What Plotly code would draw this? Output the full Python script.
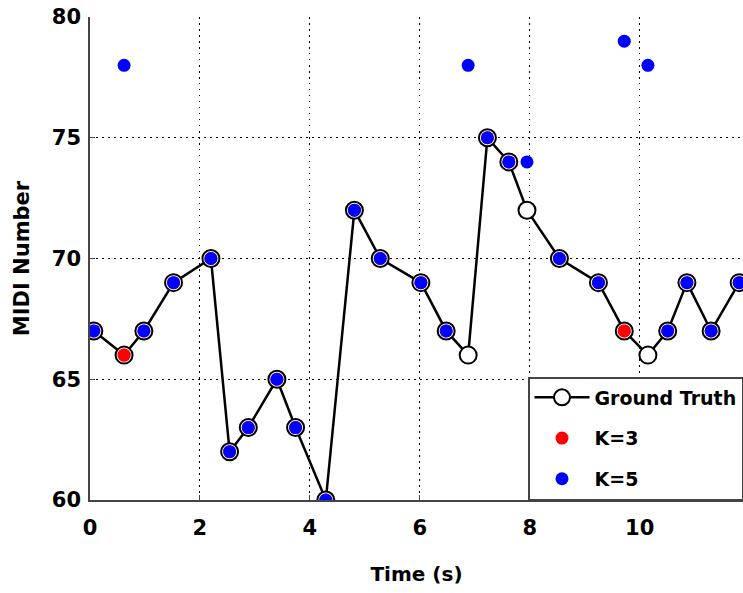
import plotly.graph_objects as go

# Note onset times (s) and MIDI pitch values
time_s = [0.07, 0.62, 0.98, 1.52, 2.20, 2.54, 2.88, 3.40, 3.74, 4.29,
          4.81, 5.28, 6.02, 6.48, 6.88, 7.23, 7.62, 7.95, 8.54, 9.25,
          9.72, 10.15, 10.51, 10.86, 11.30, 11.81]
ground_truth = [67, 66, 67, 69, 70, 62, 63, 65, 63, 60,
                72, 70, 69, 67, 66, 75, 74, 72, 70, 69,
                67, 66, 67, 69, 67, 69]
# Estimates for K=3 (None where no estimate is plotted)
k3_est = [67, 66, 67, 69, 70, 62, 63, 65, 63, 60,
          72, 70, 69, 67, None, 75, 74, None, 70, 69,
          67, None, 67, 69, 67, 69]
# Estimates for K=5
k5_est = [67, 78, 67, 69, 70, 62, 63, 65, 63, 60,
          72, 70, 69, 67, 78, 75, 74, 74, 70, 69,
          79, 78, 67, 69, 67, 69]

x_ticks = [0, 2, 4, 6, 8, 10]
y_ticks = [60, 65, 70, 75, 80]

FONT = "DejaVu Sans"

# Split estimates: where both agree the blue dot is drawn on top,
# where they disagree the red K=3 dot stays visible.
k5_agree = [w if v is not None and v == w else None for v, w in zip(k3_est, k5_est)]
k5_differ = [w if v is None or v != w else None for v, w in zip(k3_est, k5_est)]
k3_differ = [v if v is not None and v != w else None for v, w in zip(k3_est, k5_est)]

fig = go.Figure()
fig.add_trace(go.Scatter(
    x=time_s, y=ground_truth, mode="lines+markers", name="Ground Truth",
    line=dict(color="black", width=2.5),
    marker=dict(size=17, color="white", line=dict(color="black", width=2)),
    legendgroup="a",
))
fig.add_trace(go.Scatter(
    x=time_s, y=k3_est, mode="markers", name="K=3",
    marker=dict(size=13, color="#ff0000"),
    legendgroup="b",
))
fig.add_trace(go.Scatter(
    x=time_s, y=k5_agree, mode="markers", name="K=5",
    marker=dict(size=13, color="#0000ff"),
    legendgroup="c",
))
fig.add_trace(go.Scatter(
    x=time_s, y=k5_differ, mode="markers", showlegend=False,
    marker=dict(size=13, color="#0000ff"),
    legendgroup="c",
))
fig.add_trace(go.Scatter(
    x=time_s, y=k3_differ, mode="markers", showlegend=False,
    marker=dict(size=13, color="#ff0000"),
    legendgroup="b",
))

axis_common = dict(
    showgrid=True, gridcolor="black", griddash="1.5px,4.5px", gridwidth=1.2,
    showline=True, linecolor="#444444", linewidth=1.5,
    ticks="inside", ticklen=5, tickcolor="#444444",
    tickfont=dict(family=FONT, size=21, color="black", weight="bold"),
    zeroline=False,
)

fig.update_layout(
    width=743, height=593,
    margin=dict(l=90, r=0, t=17, b=93),
    paper_bgcolor="white", plot_bgcolor="white",
    xaxis=dict(range=[0, 11.88], tickvals=x_ticks, ticklabelstandoff=8,
               title=dict(text="Time (s)", standoff=28,
                          font=dict(family=FONT, size=20, color="black", weight="bold")),
               **axis_common),
    yaxis=dict(range=[60, 80], tickvals=y_ticks, ticklabelstandoff=3,
               title=dict(text="MIDI Number", standoff=16,
                          font=dict(family=FONT, size=21, color="black", weight="bold")),
               **axis_common),
    legend=dict(
        x=1, y=0, xanchor="right", yanchor="bottom",
        bgcolor="white", bordercolor="#444444", borderwidth=1.5,
        font=dict(family=FONT, size=19, color="black", weight="bold"),
        traceorder="grouped", tracegroupgap=13,
        itemwidth=55,
    ),
    showlegend=True,
)

fig.write_html("out.html")
